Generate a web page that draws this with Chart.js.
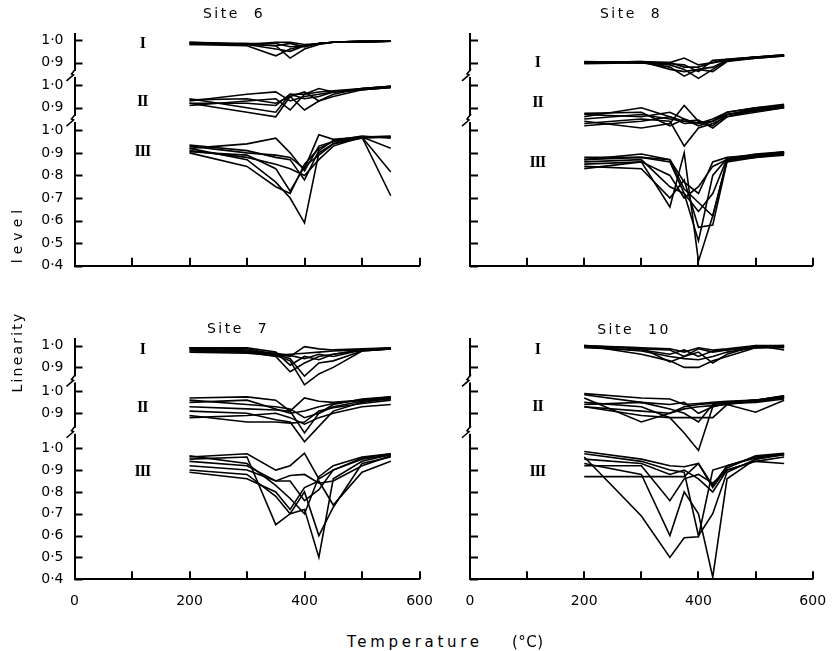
<!DOCTYPE html>
<html>
<head>
<meta charset="utf-8">
<script src="https://cdn.jsdelivr.net/npm/chart.js@4.4.1/dist/chart.umd.min.js"></script>
<style>
  body { margin: 0; background: #fff; }
  #wrap { position: relative; width: 832px; height: 651px; overflow: hidden; font-family: "DejaVu Sans", sans-serif; color: #000; }
  canvas { position: absolute; }
  .title { position: absolute; font-size: 14px; letter-spacing: 2.5px; white-space: pre; transform: translate(-50%, -50%); }
  .lab { position: absolute; font-size: 15px; white-space: pre; transform: translateY(-50%); }
  .ylab { position: absolute; left: 17px; font-size: 14px; white-space: pre; transform: translate(-50%, -50%) rotate(-90deg); }
</style>
</head>
<body>
<div id="wrap">
  <canvas id="c6" width="432" height="290" style="left:0;top:0"></canvas>
  <canvas id="c8" width="412" height="290" style="left:420px;top:0"></canvas>
  <canvas id="c7" width="432" height="330" style="left:0;top:300px"></canvas>
  <canvas id="c10" width="412" height="330" style="left:420px;top:300px"></canvas>
  <div class="title" style="left:234px;top:13px">Site  6</div>
  <div class="title" style="left:631px;top:13px">Site  8</div>
  <div class="title" style="left:238px;top:328px">Site  7</div>
  <div class="title" style="left:634px;top:329px">Site  10</div>
  <div class="ylab" style="top:352px;letter-spacing:2.2px">Linearity</div>
  <div class="ylab" style="top:234px;letter-spacing:5px">level</div>
  <div class="lab" style="left:347px;top:642px;letter-spacing:3.7px">Temperature</div>
  <div class="lab" style="left:512px;top:642px;letter-spacing:0.5px">(°C)</div>
</div>
<script>
// temperatures of the measurement steps (°C)
const temps = [200, 300, 350, 375, 400, 425, 450, 500, 550];

// y tick labels of the broken axis (III: 0.4-1.0, II: 0.9-1.0, I: 0.9-1.0)
const yTickLabels = ["0·4", "0·5", "0·6", "0·7", "0·8", "0·9", "1·0", "0·9", "1·0", "0·9", "1·0"];

// Site 6
const site6I = [
  [0.985, 0.98, 0.975, 0.92, 0.96, 0.98, 0.99, 0.99, 0.995],
  [0.98, 0.975, 0.93, 0.96, 0.975, 0.985, 0.99, 0.99, 0.995],
  [0.99, 0.985, 0.985, 0.97, 0.975, 0.985, 0.99, 0.995, 0.995],
  [0.985, 0.98, 0.99, 0.99, 0.98, 0.985, 0.99, 0.995, 0.995],
  [0.98, 0.985, 0.975, 0.985, 0.97, 0.985, 0.99, 0.99, 0.995],
  [0.99, 0.98, 0.96, 0.95, 0.975, 0.985, 0.99, 0.995, 0.995],
];
const site6II = [
  [0.93, 0.96, 0.97, 0.93, 0.95, 0.96, 0.97, 0.985, 0.995],
  [0.92, 0.88, 0.86, 0.95, 0.89, 0.93, 0.95, 0.98, 0.99],
  [0.94, 0.9, 0.88, 0.96, 0.96, 0.985, 0.97, 0.98, 0.99],
  [0.91, 0.93, 0.94, 0.89, 0.96, 0.97, 0.975, 0.985, 0.995],
  [0.92, 0.92, 0.91, 0.96, 0.94, 0.95, 0.97, 0.98, 0.99],
  [0.935, 0.94, 0.92, 0.95, 0.97, 0.93, 0.96, 0.985, 0.995],
];
const site6III = [
  [0.92, 0.94, 0.965, 0.9, 0.82, 0.93, 0.95, 0.97, 0.97],
  [0.93, 0.9, 0.89, 0.88, 0.83, 0.98, 0.96, 0.97, 0.975],
  [0.91, 0.88, 0.85, 0.83, 0.8, 0.87, 0.93, 0.97, 0.92],
  [0.9, 0.84, 0.75, 0.72, 0.85, 0.92, 0.95, 0.97, 0.815],
  [0.92, 0.87, 0.77, 0.7, 0.59, 0.9, 0.94, 0.97, 0.71],
  [0.935, 0.91, 0.88, 0.87, 0.78, 0.91, 0.955, 0.975, 0.965],
  [0.905, 0.89, 0.83, 0.73, 0.84, 0.89, 0.94, 0.965, 0.97],
];

// Site 8
const site8I = [
  [0.9, 0.905, 0.9, 0.92, 0.89, 0.9, 0.915, 0.925, 0.935],
  [0.9, 0.9, 0.88, 0.84, 0.87, 0.88, 0.91, 0.925, 0.93],
  [0.895, 0.9, 0.89, 0.87, 0.83, 0.87, 0.91, 0.92, 0.93],
  [0.9, 0.905, 0.87, 0.86, 0.87, 0.86, 0.905, 0.92, 0.93],
  [0.905, 0.9, 0.9, 0.88, 0.88, 0.9, 0.91, 0.925, 0.935],
  [0.9, 0.9, 0.895, 0.89, 0.86, 0.91, 0.915, 0.925, 0.93],
];
const site8II = [
  [0.86, 0.9, 0.86, 0.84, 0.83, 0.84, 0.88, 0.9, 0.915],
  [0.84, 0.81, 0.83, 0.91, 0.84, 0.82, 0.87, 0.89, 0.91],
  [0.87, 0.86, 0.88, 0.85, 0.82, 0.84, 0.87, 0.895, 0.905],
  [0.83, 0.85, 0.84, 0.73, 0.81, 0.83, 0.86, 0.88, 0.9],
  [0.85, 0.87, 0.85, 0.84, 0.845, 0.81, 0.86, 0.89, 0.905],
  [0.875, 0.88, 0.82, 0.85, 0.83, 0.85, 0.88, 0.9, 0.91],
  [0.82, 0.84, 0.86, 0.83, 0.835, 0.84, 0.87, 0.885, 0.9],
];
const site8III = [
  [0.87, 0.895, 0.87, 0.77, 0.72, 0.86, 0.88, 0.89, 0.905],
  [0.85, 0.86, 0.66, 0.9, 0.42, 0.62, 0.87, 0.885, 0.9],
  [0.86, 0.87, 0.75, 0.72, 0.51, 0.8, 0.875, 0.89, 0.9],
  [0.84, 0.83, 0.7, 0.78, 0.57, 0.58, 0.86, 0.88, 0.895],
  [0.88, 0.88, 0.87, 0.74, 0.68, 0.62, 0.865, 0.885, 0.9],
  [0.83, 0.86, 0.8, 0.7, 0.75, 0.84, 0.87, 0.88, 0.89],
  [0.87, 0.88, 0.86, 0.72, 0.64, 0.72, 0.875, 0.895, 0.905],
];

// Site 7
const site7I = [
  [0.99, 0.985, 0.96, 0.95, 0.995, 0.985, 0.98, 0.985, 0.99],
  [0.98, 0.97, 0.95, 0.88, 0.92, 0.95, 0.96, 0.98, 0.985],
  [0.99, 0.98, 0.955, 0.93, 0.82, 0.87, 0.9, 0.975, 0.985],
  [0.975, 0.97, 0.96, 0.94, 0.86, 0.92, 0.93, 0.975, 0.985],
  [0.985, 0.975, 0.965, 0.955, 0.94, 0.96, 0.95, 0.98, 0.985],
  [0.97, 0.965, 0.955, 0.96, 0.965, 0.97, 0.975, 0.98, 0.99],
  [0.99, 0.99, 0.97, 0.91, 0.95, 0.935, 0.96, 0.98, 0.985],
];
const site7II = [
  [0.97, 0.975, 0.96, 0.91, 0.97, 0.955, 0.95, 0.96, 0.975],
  [0.95, 0.96, 0.92, 0.9, 0.91, 0.93, 0.945, 0.96, 0.97],
  [0.93, 0.92, 0.915, 0.91, 0.81, 0.9, 0.93, 0.955, 0.965],
  [0.91, 0.9, 0.87, 0.86, 0.77, 0.84, 0.91, 0.95, 0.97],
  [0.89, 0.86, 0.86, 0.855, 0.86, 0.91, 0.925, 0.945, 0.96],
  [0.88, 0.89, 0.9, 0.88, 0.85, 0.88, 0.9, 0.93, 0.94],
  [0.96, 0.94, 0.93, 0.92, 0.88, 0.9, 0.94, 0.965, 0.975],
];
const site7III = [
  [0.96, 0.975, 0.9, 0.92, 0.977, 0.86, 0.9, 0.95, 0.97],
  [0.95, 0.96, 0.65, 0.7, 0.8, 0.6, 0.73, 0.93, 0.96],
  [0.92, 0.9, 0.85, 0.875, 0.88, 0.84, 0.85, 0.92, 0.965],
  [0.9, 0.88, 0.78, 0.7, 0.72, 0.5, 0.86, 0.94, 0.97],
  [0.94, 0.92, 0.85, 0.85, 0.76, 0.81, 0.9, 0.955, 0.975],
  [0.89, 0.86, 0.8, 0.72, 0.82, 0.85, 0.74, 0.89, 0.94],
  [0.965, 0.93, 0.83, 0.77, 0.7, 0.87, 0.92, 0.96, 0.975],
];

// Site 10
const site10I = [
  [1.0, 0.96, 0.93, 0.9, 0.9, 0.93, 0.95, 0.99, 0.995],
  [0.995, 0.99, 0.925, 0.95, 0.97, 0.92, 0.96, 1.0, 0.98],
  [1.0, 0.985, 0.98, 0.95, 0.985, 0.97, 0.98, 0.995, 1.0],
  [0.99, 0.98, 0.96, 0.98, 0.95, 0.975, 0.98, 0.99, 0.99],
  [1.0, 0.99, 0.985, 0.97, 0.99, 0.98, 0.985, 1.0, 1.0],
  [0.995, 0.975, 0.95, 0.94, 0.935, 0.95, 0.97, 0.99, 0.995],
];
const site10II = [
  [0.99, 0.97, 0.965, 0.94, 0.945, 0.95, 0.955, 0.96, 0.98],
  [0.97, 0.86, 0.9, 0.92, 0.93, 0.935, 0.94, 0.905, 0.96],
  [0.95, 0.93, 0.88, 0.81, 0.73, 0.93, 0.945, 0.955, 0.97],
  [0.93, 0.89, 0.88, 0.88, 0.88, 0.88, 0.94, 0.955, 0.975],
  [0.985, 0.95, 0.92, 0.9, 0.86, 0.94, 0.95, 0.96, 0.98],
  [0.94, 0.95, 0.94, 0.95, 0.9, 0.93, 0.945, 0.95, 0.965],
  [0.93, 0.91, 0.9, 0.93, 0.94, 0.945, 0.95, 0.96, 0.975],
];
const site10III = [
  [0.96, 0.69, 0.5, 0.59, 0.595, 0.9, 0.92, 0.96, 0.975],
  [0.93, 0.88, 0.6, 0.8, 0.7, 0.41, 0.86, 0.95, 0.97],
  [0.985, 0.95, 0.92, 0.915, 0.93, 0.82, 0.91, 0.965, 0.977],
  [0.87, 0.87, 0.87, 0.87, 0.93, 0.83, 0.92, 0.955, 0.97],
  [0.92, 0.92, 0.76, 0.86, 0.88, 0.84, 0.9, 0.94, 0.96],
  [0.95, 0.93, 0.88, 0.9, 0.86, 0.8, 0.9, 0.94, 0.93],
  [0.975, 0.94, 0.9, 0.89, 0.6, 0.7, 0.89, 0.95, 0.975],
];

// broken axis: each band is mapped onto one linear scale (0.1 = 1 unit)
const topLayout = { bandI: 9, bandII: 7, ticks: [0, 1, 2, 3, 4, 5, 6, 7, 8, 9, 10], breaks: [6.5, 8.5], max: 10.25 };
const bottomLayout = { bandI: 9.7, bandII: 7.6, ticks: [0, 1, 2, 3, 4, 5, 6, 7.6, 8.6, 9.7, 10.7], breaks: [6.8, 9.15], max: 11 };

const decor = {
  id: "decor",
  afterDraw(chart, args, opts) {
    const { ctx, chartArea: a, scales: { x, y } } = chart;
    ctx.save();
    ctx.strokeStyle = "#000";
    ctx.lineWidth = 2;
    ctx.beginPath();
    y.ticks.forEach((t) => {
      const py = Math.round(y.getPixelForValue(t.value)) + 0.5;
      ctx.moveTo(a.left, py);
      ctx.lineTo(a.left + 8, py);
    });
    x.ticks.forEach((t) => {
      const px = Math.round(x.getPixelForValue(t.value));
      ctx.moveTo(px, a.bottom);
      ctx.lineTo(px, a.bottom - 8);
    });
    ctx.stroke();
    // axis breaks
    opts.breaks.forEach((u) => {
      const py = y.getPixelForValue(u);
      ctx.fillStyle = "#fff";
      ctx.fillRect(a.left - 3, py - 3, 6, 6);
      ctx.lineWidth = 1.6;
      ctx.beginPath();
      ctx.moveTo(a.left - 8, py + 7);
      ctx.lineTo(a.left - 1, py + 1);
      ctx.lineTo(a.left - 3, py);
      ctx.lineTo(a.left + 1, py - 5);
      ctx.stroke();
    });
    // band numerals
    ctx.fillStyle = "#000";
    ctx.font = 'bold 16px "Liberation Serif"';
    ctx.textAlign = "center";
    ctx.textBaseline = "middle";
    if ("letterSpacing" in ctx) ctx.letterSpacing = "-1px";
    ["I", "II", "III"].forEach((n, i) => {
      ctx.fillText(n, x.getPixelForValue(118), y.getPixelForValue(opts.numerals[i]));
    });
    ctx.restore();
  },
};

function drawSite(id, bands, lay, numerals, showX, showY) {
  const toU = [
    (v) => lay.bandI + (v - 0.9) * 10,
    (v) => lay.bandII + (v - 0.9) * 10,
    (v) => (v - 0.4) * 10,
  ];
  const datasets = [];
  bands.forEach((band, b) => {
    band.forEach((vals) => {
      datasets.push({
        data: temps.map((t, i) => ({ x: t, y: toU[b](vals[i]) })),
        borderColor: "#000",
        borderWidth: 1.6,
        pointRadius: 0,
        tension: 0,
        fill: false,
      });
    });
  });
  const left = id === "c6" || id === "c7";
  const top = id === "c6" || id === "c8";
  new Chart(document.getElementById(id), {
    type: "line",
    data: { datasets },
    options: {
      responsive: false,
      animation: false,
      events: [],
      layout: { padding: { left: 0, top: top ? 34.4 : 39, right: left ? 12.5 : 19.3, bottom: 0 } },
      plugins: {
        legend: { display: false },
        tooltip: { enabled: false },
        decor: { breaks: lay.breaks, numerals },
      },
      scales: {
        x: {
          type: "linear",
          min: 0,
          max: 600,
          afterFit: (s) => {
            s.height = top ? 24.3 : 50.7;
            s.paddingLeft = 0;
            s.paddingRight = 0;
          },
          grid: { drawOnChartArea: false, drawTicks: false },
          border: { color: "#000", width: 2 },
          ticks: {
            display: showX,
            stepSize: 100,
            autoSkip: false,
            maxRotation: 0,
            padding: 14,
            color: "#000",
            font: { family: "DejaVu Sans", size: 14 },
            callback: (v) => (v % 200 === 0 ? v : ""),
          },
        },
        y: {
          type: "linear",
          min: 0,
          max: lay.max,
          afterFit: (s) => {
            s.width = left ? 74.5 : 50;
            s.paddingTop = 0;
            s.paddingBottom = 0;
          },
          afterBuildTicks: (s) => { s.ticks = lay.ticks.map((v) => ({ value: v })); },
          grid: { drawOnChartArea: false, drawTicks: false },
          border: { color: "#000", width: 2 },
          ticks: {
            display: showY,
            autoSkip: false,
            padding: 11,
            color: "#000",
            font: { family: "DejaVu Sans", size: 14 },
            callback: (v, i) => yTickLabels[i],
          },
        },
      },
    },
    plugins: [decor],
  });
}

drawSite("c6", [site6I, site6II, site6III], topLayout, [9.85, 7.27, 5.05], false, true);
drawSite("c8", [site8I, site8II, site8III], topLayout, [8.97, 7.2, 4.54], false, false);
drawSite("c7", [site7I, site7II, site7III], bottomLayout, [10.49, 7.83, 4.92], true, true);
drawSite("c10", [site10I, site10II, site10III], bottomLayout, [10.49, 7.9, 4.92], true, false);
</script>
</body>
</html>
